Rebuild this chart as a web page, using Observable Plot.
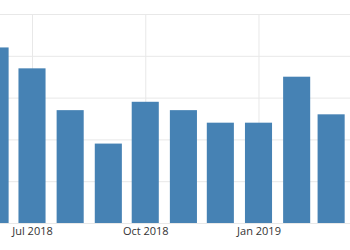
<!DOCTYPE html>
<html>
<head>
<meta charset="utf-8">
<script src="https://cdn.jsdelivr.net/npm/d3@7"></script>
<script src="https://cdn.jsdelivr.net/npm/@observablehq/plot@0.6"></script>
<style>
  html, body { margin: 0; padding: 0; background: #fff; }
  #chart svg { display: block; }
</style>
</head>
<body>
<div id="chart"></div>
<script>
const months = ["2018-06", "2018-07", "2018-08", "2018-09", "2018-10", "2018-11", "2018-12", "2019-01", "2019-02", "2019-03"];
const values = [4.2, 3.7, 2.7, 1.9, 2.9, 2.7, 2.4, 2.4, 3.5, 2.6];
const tickMonths = ["2018-07", "2018-10", "2019-01"];
const tickLabels = ["Jul 2018", "Oct 2018", "Jan 2019"];
const yGrid = [0, 1, 2, 3, 4, 5];

const parse = d3.utcParse("%Y-%m");
const data = months.map((m, i) => ({date: parse(m), value: values[i]}));
const ticks = tickMonths.map(parse);
const labelOf = new Map(ticks.map((t, i) => [+t, tickLabels[i]]));

const chart = Plot.plot({
  width: 350,
  height: 250,
  marginLeft: 0,
  marginRight: 0,
  marginTop: 14,
  marginBottom: 27,
  style: {fontFamily: "'Open Sans', sans-serif", fontSize: "11px", color: "#333", background: "#fff"},
  x: {type: "utc", domain: [new Date(Date.UTC(2018, 5, 5)), new Date(Date.UTC(2019, 2, 16, 8))]},
  y: {domain: [0, 5]},
  marks: [
    Plot.ruleY(yGrid, {stroke: "#e8e8e8", strokeWidth: 1}),
    Plot.ruleX(ticks, {y1: 0, y2: 5, stroke: "#e8e8e8", strokeWidth: 1}),
    Plot.rectY(data, {
      x1: d => d3.utcDay.offset(d.date, -11),
      x2: d => d3.utcDay.offset(d.date, 11),
      y: "value",
      fill: "#4682b4",
      clip: true
    }),
    Plot.axisX(ticks, {tickSize: 0, tickPadding: 4, tickFormat: d => labelOf.get(+d), fill: "#333", label: null}),
    Plot.axisY({ticks: [], label: null, tickSize: 0})
  ]
});
document.getElementById("chart").appendChild(chart);
</script>
</body>
</html>
